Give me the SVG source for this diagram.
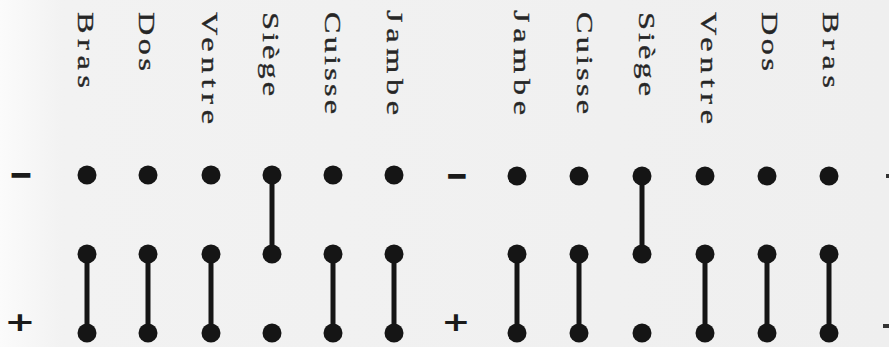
<svg xmlns="http://www.w3.org/2000/svg" width="889" height="347" viewBox="0 0 889 347">
  <defs>
    <linearGradient id="bg" x1="0" y1="0" x2="1" y2="0">
      <stop offset="0" stop-color="#fbfbfb"/>
      <stop offset="0.07" stop-color="#f2f2f2"/>
      <stop offset="1" stop-color="#efefef"/>
    </linearGradient>
  </defs>
  <style>
    .lbl { font-family: "Liberation Serif", "DejaVu Serif", serif; font-size: 23px; fill: #262626; stroke: #262626; stroke-width: 0.35; }
    .dot { fill: #151515; }
    .con { stroke: #151515; stroke-width: 5; fill: none; }
    .sign { font-family: "DejaVu Sans", "Liberation Sans", sans-serif; font-weight: bold; font-size: 40px; fill: #1a1a1a; text-anchor: middle; }
    .edge { fill: #333; }
  </style>
  <rect x="0" y="0" width="889" height="347" fill="url(#bg)"/>

  <g id="connectors">
    <line class="con" x1="87" y1="254" x2="87" y2="333"/>
    <line class="con" x1="148" y1="254" x2="148" y2="333"/>
    <line class="con" x1="211" y1="254" x2="211" y2="333"/>
    <line class="con" x1="272" y1="175" x2="272" y2="254"/>
    <line class="con" x1="333" y1="254" x2="333" y2="333"/>
    <line class="con" x1="394" y1="254" x2="394" y2="333"/>
    <line class="con" x1="517" y1="254" x2="517" y2="333"/>
    <line class="con" x1="579" y1="254" x2="579" y2="333"/>
    <line class="con" x1="642" y1="176" x2="642" y2="254"/>
    <line class="con" x1="705" y1="254" x2="705" y2="333"/>
    <line class="con" x1="767" y1="254" x2="767" y2="333"/>
    <line class="con" x1="829" y1="254" x2="829" y2="333"/>
  </g>

  <g id="signs">
    <text class="sign" transform="translate(21,188) scale(0.75,1)">−</text>
    <text class="sign" transform="translate(20,331) scale(0.92,0.68)">+</text>
    <text class="sign" transform="translate(457,189) scale(0.7,1)">−</text>
    <text class="sign" transform="translate(456,331) scale(0.86,0.68)">+</text>
    <rect class="edge" x="886" y="174" width="3" height="4"/>
    <rect class="edge" x="883" y="324" width="6" height="4"/>
  </g>

  <g id="L-bras">
    <text class="lbl" transform="translate(78,12) rotate(90) scale(1.4,1)" textLength="54.3" lengthAdjust="spacing">Bras</text>
    <circle class="dot" cx="87" cy="175" r="9.5"/>
    <circle class="dot" cx="87" cy="254" r="9.5"/>
    <circle class="dot" cx="87" cy="333" r="9.5"/>
  </g>
  <g id="L-dos">
    <text class="lbl" transform="translate(139,12) rotate(90) scale(1.4,1)" textLength="42.1" lengthAdjust="spacing">Dos</text>
    <circle class="dot" cx="148" cy="175" r="9.5"/>
    <circle class="dot" cx="148" cy="254" r="9.5"/>
    <circle class="dot" cx="148" cy="333" r="9.5"/>
  </g>
  <g id="L-ventre">
    <text class="lbl" transform="translate(202,12) rotate(90) scale(1.4,1)" textLength="80" lengthAdjust="spacing">Ventre</text>
    <circle class="dot" cx="211" cy="175" r="9.5"/>
    <circle class="dot" cx="211" cy="254" r="9.5"/>
    <circle class="dot" cx="211" cy="333" r="9.5"/>
  </g>
  <g id="L-siege">
    <text class="lbl" transform="translate(263,12) rotate(90) scale(1.4,1)" textLength="60" lengthAdjust="spacing">Siège</text>
    <circle class="dot" cx="272" cy="175" r="9.5"/>
    <circle class="dot" cx="272" cy="254" r="9.5"/>
    <circle class="dot" cx="272" cy="333" r="9.5"/>
  </g>
  <g id="L-cuisse">
    <text class="lbl" transform="translate(325,12) rotate(90) scale(1.4,1)" textLength="72.9" lengthAdjust="spacing">Cuisse</text>
    <circle class="dot" cx="333" cy="175" r="9.5"/>
    <circle class="dot" cx="333" cy="254" r="9.5"/>
    <circle class="dot" cx="333" cy="333" r="9.5"/>
  </g>
  <g id="L-jambe">
    <text class="lbl" transform="translate(387,10) rotate(90) scale(1.4,1)" textLength="75" lengthAdjust="spacing">Jambe</text>
    <circle class="dot" cx="394" cy="175" r="9.5"/>
    <circle class="dot" cx="394" cy="254" r="9.5"/>
    <circle class="dot" cx="394" cy="333" r="9.5"/>
  </g>

  <g id="R-jambe">
    <text class="lbl" transform="translate(514,10) rotate(90) scale(1.4,1)" textLength="75" lengthAdjust="spacing">Jambe</text>
    <circle class="dot" cx="517" cy="176" r="9.5"/>
    <circle class="dot" cx="517" cy="254" r="9.5"/>
    <circle class="dot" cx="517" cy="333" r="9.5"/>
  </g>
  <g id="R-cuisse">
    <text class="lbl" transform="translate(577,12) rotate(90) scale(1.4,1)" textLength="72.9" lengthAdjust="spacing">Cuisse</text>
    <circle class="dot" cx="579" cy="176" r="9.5"/>
    <circle class="dot" cx="579" cy="254" r="9.5"/>
    <circle class="dot" cx="579" cy="333" r="9.5"/>
  </g>
  <g id="R-siege">
    <text class="lbl" transform="translate(639,12) rotate(90) scale(1.4,1)" textLength="60" lengthAdjust="spacing">Siège</text>
    <circle class="dot" cx="642" cy="176" r="9.5"/>
    <circle class="dot" cx="642" cy="254" r="9.5"/>
    <circle class="dot" cx="642" cy="333" r="9.5"/>
  </g>
  <g id="R-ventre">
    <text class="lbl" transform="translate(701,12) rotate(90) scale(1.4,1)" textLength="80" lengthAdjust="spacing">Ventre</text>
    <circle class="dot" cx="705" cy="176" r="9.5"/>
    <circle class="dot" cx="705" cy="254" r="9.5"/>
    <circle class="dot" cx="705" cy="333" r="9.5"/>
  </g>
  <g id="R-dos">
    <text class="lbl" transform="translate(762,12) rotate(90) scale(1.4,1)" textLength="42.1" lengthAdjust="spacing">Dos</text>
    <circle class="dot" cx="767" cy="176" r="9.5"/>
    <circle class="dot" cx="767" cy="254" r="9.5"/>
    <circle class="dot" cx="767" cy="333" r="9.5"/>
  </g>
  <g id="R-bras">
    <text class="lbl" transform="translate(823,12) rotate(90) scale(1.4,1)" textLength="54.3" lengthAdjust="spacing">Bras</text>
    <circle class="dot" cx="829" cy="176" r="9.5"/>
    <circle class="dot" cx="829" cy="254" r="9.5"/>
    <circle class="dot" cx="829" cy="333" r="9.5"/>
  </g>
</svg>
